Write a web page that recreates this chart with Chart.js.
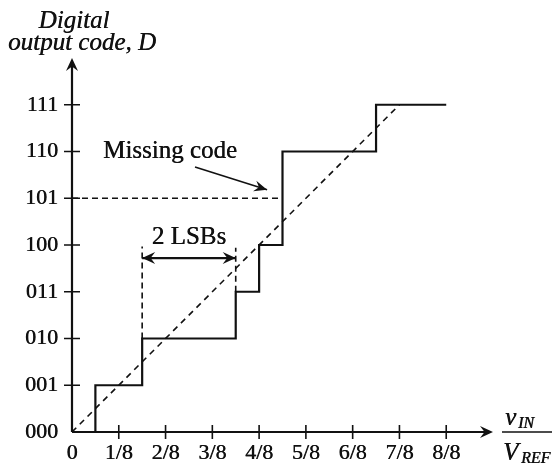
<!DOCTYPE html>
<html>
<head>
<meta charset="utf-8">
<script src="https://cdn.jsdelivr.net/npm/chart.js@4.4.1/dist/chart.umd.min.js"></script>
<style>
  html, body { margin: 0; padding: 0; background: #fff; }
  canvas { display: block; }
</style>
</head>
<body>
<canvas id="adcChart" width="552" height="465"></canvas>
<script>
// Digital codes on the y axis, fractions of Vref on the x axis
let codeLabels = ["000", "001", "010", "011", "100", "101", "110", "111"];
let vinLabels = ["0", "1/8", "2/8", "3/8", "4/8", "5/8", "6/8", "7/8", "8/8"];

// Actual transfer curve (x in eighths of Vref, y in codes)
let stepX = [0, 0.5, 0.5, 1.5, 1.5, 3.5, 3.5, 4, 4, 4.5, 4.5, 6.5, 6.5, 8];
let stepY = [0, 0, 1, 1, 2, 2, 3, 3, 4, 4, 6, 6, 7, 7];

// Ideal straight line
let idealX = [0, 7];
let idealY = [0, 7];

// Missing code guide (101)
let missX = [0, 4.5];
let missY = [5, 5];

// 2 LSB guides
let lsbLeftX = [1.5, 1.5];
let lsbLeftY = [2, 3.97];
let lsbRightX = [3.5, 3.5];
let lsbRightY = [3, 3.94];
let lsbArrowX = [1.5, 3.5];
let lsbArrowY = [3.72, 3.72];

// pointer from "Missing code" label
let pointerX = [2.63, 4.17];
let pointerY = [5.67, 5.18];

const toPts = (xs, ys) => xs.map((x, i) => ({ x: x, y: ys[i] }));
const ink = '#111';
const serif = '"Liberation Serif", "Times New Roman", serif';

function arrowHead(ctx, x, y, ang, len, half) {
    ctx.save();
    ctx.translate(x, y);
    ctx.rotate(ang);
    ctx.beginPath();
    ctx.moveTo(0, 0);
    ctx.lineTo(-len, -half);
    ctx.lineTo(-len * 0.65, 0);
    ctx.lineTo(-len, half);
    ctx.closePath();
    ctx.fillStyle = ink;
    ctx.fill();
    ctx.restore();
}

// text a touch heavier, like the printed figure
function inkText(ctx, s, x, y) {
    ctx.fillText(s, x, y);
    ctx.fillText(s, x + 0.4, y);
}

const axesPlugin = {
    id: 'axesPlugin',
    afterDatasetsDraw(chart) {
        const ctx = chart.ctx;
        const xs = chart.scales.x, ys = chart.scales.y;
        const x0 = xs.getPixelForValue(0), y0 = ys.getPixelForValue(0);
        const xEnd = xs.getPixelForValue(xs.max), yEnd = ys.getPixelForValue(ys.max);
        ctx.save();
        ctx.strokeStyle = ink;
        ctx.lineWidth = 2.2;
        // axes
        ctx.beginPath();
        ctx.moveTo(x0, y0); ctx.lineTo(xEnd - 6, y0);
        ctx.moveTo(x0, y0); ctx.lineTo(x0, yEnd + 6);
        ctx.stroke();
        arrowHead(ctx, xEnd, y0, 0, 13, 6);
        arrowHead(ctx, x0, yEnd, -Math.PI / 2, 13, 6);

        // ticks
        ctx.lineWidth = 1.6;
        ctx.beginPath();
        for (let i = 1; i < vinLabels.length; i++) {
            const px = xs.getPixelForValue(i);
            ctx.moveTo(px, y0 - 7); ctx.lineTo(px, y0 + 7);
        }
        for (let i = 1; i < codeLabels.length; i++) {
            const py = ys.getPixelForValue(i);
            ctx.moveTo(x0 - 8, py); ctx.lineTo(x0 + 8, py);
        }
        ctx.stroke();

        // tick labels
        ctx.fillStyle = ink;
        ctx.font = '22px ' + serif;
        ctx.textAlign = 'center';
        ctx.textBaseline = 'middle';
        vinLabels.forEach((lab, i) => {
            inkText(ctx, lab, xs.getPixelForValue(i), y0 + 21);
        });
        ctx.textAlign = 'right';
        codeLabels.forEach((lab, i) => {
            inkText(ctx, lab, x0 - 14, ys.getPixelForValue(i));
        });

        // y axis title
        ctx.font = 'italic 25px ' + serif;
        ctx.textAlign = 'center';
        ctx.textBaseline = 'alphabetic';
        inkText(ctx, 'Digital', 74, 28);
        inkText(ctx, 'output code, D', 82, 50);

        // x axis title: vIN / VREF
        const fl = xEnd + 9;
        ctx.lineWidth = 1.6;
        ctx.beginPath();
        ctx.moveTo(fl, y0); ctx.lineTo(chart.width, y0);
        ctx.stroke();
        ctx.textAlign = 'left';
        ctx.font = 'italic 25px ' + serif;
        inkText(ctx, 'v', 505, y0 - 7);
        inkText(ctx, 'V', 503, y0 + 28);
        ctx.font = 'italic 16px ' + serif;
        inkText(ctx, 'IN', 518, y0 - 4);
        inkText(ctx, 'REF', 521, y0 + 31);

        // annotations
        ctx.font = '25px ' + serif;
        inkText(ctx, 'Missing code', 103, 158);
        ctx.textAlign = 'center';
        inkText(ctx, '2 LSBs', (xs.getPixelForValue(1.5) + xs.getPixelForValue(3.5)) / 2, 244);

        // arrow heads on the annotation lines
        const ay = ys.getPixelForValue(lsbArrowY[0]);
        arrowHead(ctx, xs.getPixelForValue(lsbArrowX[1]), ay, 0, 13, 6);
        arrowHead(ctx, xs.getPixelForValue(lsbArrowX[0]), ay, Math.PI, 13, 6);
        const px1 = xs.getPixelForValue(pointerX[0]), py1 = ys.getPixelForValue(pointerY[0]);
        const px2 = xs.getPixelForValue(pointerX[1]), py2 = ys.getPixelForValue(pointerY[1]);
        arrowHead(ctx, px2, py2, Math.atan2(py2 - py1, px2 - px1), 13, 5.5);
        ctx.restore();
    }
};

function buildChart() {
    const ct1 = document.getElementById('adcChart').getContext('2d');
    return new Chart(ct1, {
        type: 'line',
        data: {
            datasets: [{
                label: 'Actual',
                data: toPts(stepX, stepY),
                borderColor: ink,
                borderWidth: 2.2,
                pointRadius: 0,
                tension: 0
            }, {
                label: 'Ideal',
                data: toPts(idealX, idealY),
                borderColor: ink,
                borderWidth: 1.6,
                borderDash: [6, 5],
                pointRadius: 0
            }, {
                label: 'Missing',
                data: toPts(missX, missY),
                borderColor: ink,
                borderWidth: 1.6,
                borderDash: [6, 4],
                pointRadius: 0
            }, {
                label: 'LSB left',
                data: toPts(lsbLeftX, lsbLeftY),
                borderColor: ink,
                borderWidth: 1.6,
                borderDash: [6, 4],
                pointRadius: 0
            }, {
                label: 'LSB right',
                data: toPts(lsbRightX, lsbRightY),
                borderColor: ink,
                borderWidth: 1.6,
                borderDash: [6, 4],
                pointRadius: 0
            }, {
                label: 'LSB span',
                data: toPts(lsbArrowX, lsbArrowY),
                borderColor: ink,
                borderWidth: 2.2,
                pointRadius: 0
            }, {
                label: 'Pointer',
                data: toPts(pointerX, pointerY),
                borderColor: ink,
                borderWidth: 1.6,
                pointRadius: 0
            }]
        },
        options: {
            responsive: false,
            animation: false,
            layout: {
                padding: { left: 72, right: 59, top: 58, bottom: 33 }
            },
            scales: {
                x: { type: 'linear', min: 0, max: 9, display: false },
                y: { type: 'linear', min: 0, max: 8, display: false }
            },
            plugins: {
                legend: { display: false },
                tooltip: { enabled: false }
            }
        },
        plugins: [axesPlugin]
    });
}

// make sure the serif faces are ready before the canvas text is drawn
Promise.all([
    document.fonts.load('22px "Liberation Serif"'),
    document.fonts.load('italic 25px "Liberation Serif"')
]).catch(() => {}).then(buildChart);
</script>
</body>
</html>
